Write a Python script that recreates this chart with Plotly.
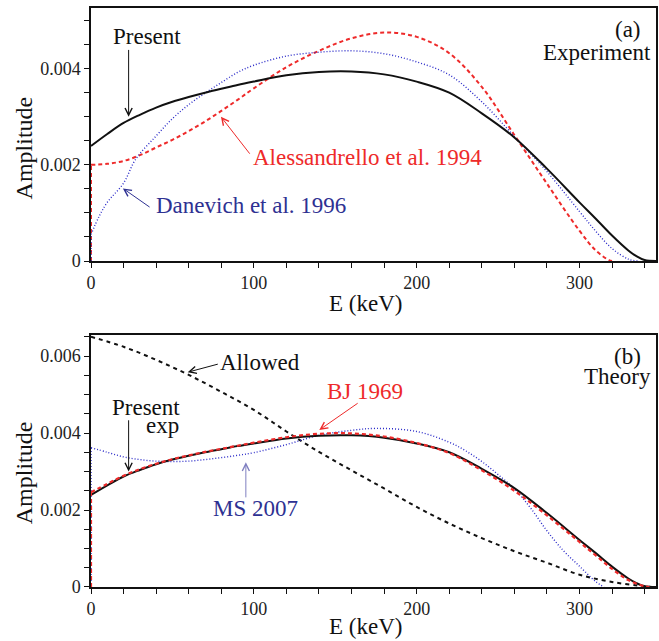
import plotly.graph_objects as go

# ---------------- data ----------------
present_E = [0, 10, 20, 30, 40, 50, 60, 70, 80, 90, 100, 120, 140, 160, 180, 200, 220, 240, 260, 280, 300, 310, 320, 330, 335, 340, 347]
present_A = [0.00239, 0.00264, 0.00287, 0.00304, 0.00319, 0.00331, 0.00341, 0.00350, 0.00358, 0.00366, 0.00373, 0.00386, 0.00393, 0.00394, 0.00388, 0.00373, 0.00350, 0.00307, 0.00257, 0.00192, 0.00122, 0.00088, 0.00053, 0.00022, 0.00010, 0.00002, 0.0]

aless_E = [0, 10, 20, 30, 40, 50, 60, 70, 80, 90, 100, 120, 140, 160, 180, 200, 220, 240, 260, 280, 300, 310, 318, 320]
aless_A = [0.00200, 0.00202, 0.00208, 0.00220, 0.00236, 0.00252, 0.00270, 0.00290, 0.00312, 0.00335, 0.00359, 0.00403, 0.00437, 0.00463, 0.00475, 0.00466, 0.00432, 0.00362, 0.00262, 0.00161, 0.00063, 0.00022, 0.00002, 0.0]

danev_E = [0, 5, 10, 20, 27.5, 40, 50, 60, 70, 80, 90, 100, 120, 140, 160, 180, 200, 220, 240, 260, 280, 300, 310, 320, 330, 336]
danev_A = [0.00055, 0.00093, 0.00122, 0.00162, 0.00212, 0.00260, 0.00296, 0.00325, 0.00349, 0.00371, 0.00392, 0.00407, 0.00426, 0.00434, 0.00437, 0.00431, 0.00414, 0.00387, 0.00331, 0.00259, 0.00186, 0.00103, 0.00062, 0.00026, 0.00004, 0.0]

bj_E = [0, 10, 20, 30, 40, 50, 60, 70, 80, 90, 100, 120, 140, 160, 180, 200, 220, 240, 260, 280, 300, 310, 320, 330, 340, 343]
bj_A = [0.00246, 0.00268, 0.00289, 0.00306, 0.00320, 0.00332, 0.00342, 0.00351, 0.00359, 0.00367, 0.00375, 0.00389, 0.00398, 0.00399, 0.00391, 0.00374, 0.00348, 0.00303, 0.00250, 0.00186, 0.00117, 0.00082, 0.00047, 0.00018, 0.00002, 0.0]

ms_E = [0, 10, 20, 30, 40, 50, 60, 70, 80, 90, 100, 120, 140, 160, 175, 200, 220, 230, 240, 250, 260, 270, 280, 290, 300, 310, 315]
ms_A = [0.00362, 0.00350, 0.00338, 0.00331, 0.00327, 0.00326, 0.00327, 0.00331, 0.00336, 0.00342, 0.00349, 0.00370, 0.00394, 0.00407, 0.00412, 0.00404, 0.00376, 0.00354, 0.00326, 0.00292, 0.00255, 0.00205, 0.00146, 0.00095, 0.00054, 0.00014, 0.0]

allowed_E = [0, 20, 40, 60, 80, 100, 120, 140, 160, 180, 200, 220, 240, 260, 280, 300, 320, 340, 345]
allowed_A = [0.00650, 0.00624, 0.00590, 0.00551, 0.00507, 0.00460, 0.00404, 0.00351, 0.00303, 0.00256, 0.00208, 0.00165, 0.00127, 0.00093, 0.00063, 0.00032, 0.00013, 0.00002, 0.0]

x_ticks = [0, 100, 200, 300]
x_ticklabels = ["0", "100", "200", "300"]
y_ticks_top = [0, 0.002, 0.004]
y_ticklabels_top = ["0", "0.002", "0.004"]
y_ticks_bot = [0, 0.002, 0.004, 0.006]
y_ticklabels_bot = ["0", "0.002", "0.004", "0.006"]

# ---------------- styles ----------------
FONT = "Liberation Serif, Times New Roman, serif"
BLACK = "#111111"
RED = "#ee2a2a"
BLUE = "#2a2ac8"
BLUE_TXT = "#2e3192"
ANN_SIZE = 23

fig = go.Figure()


def curve(E, A, line, xa, ya, start_vertical=False):
    if start_vertical:
        fig.add_trace(go.Scatter(x=[E[0], E[0]], y=[0, A[0]], mode="lines", line=line,
                                 xaxis=xa, yaxis=ya, hoverinfo="skip"))
    fig.add_trace(go.Scatter(x=E, y=A, mode="lines", line=dict(line, shape="spline", smoothing=1.0),
                             xaxis=xa, yaxis=ya))


# top panel
curve(aless_E, aless_A, dict(color=RED, width=2, dash="4px,3px"), "x", "y", True)
curve(danev_E, danev_A, dict(color=BLUE, width=1.4, dash="1px,2px"), "x", "y", True)
curve(present_E, present_A, dict(color=BLACK, width=2), "x", "y")

# bottom panel
curve(allowed_E, allowed_A, dict(color=BLACK, width=2, dash="4px,4px"), "x2", "y2")
curve(ms_E, ms_A, dict(color=BLUE, width=1.4, dash="1px,2px"), "x2", "y2", True)
curve(present_E, present_A, dict(color=BLACK, width=2), "x2", "y2")
curve(bj_E, bj_A, dict(color=RED, width=2.2, dash="4px,3px"), "x2", "y2", True)

axis_common = dict(
    showline=True, mirror=True, linecolor=BLACK, linewidth=1.5,
    showgrid=False, zeroline=False, ticks="outside", ticklen=5, tickwidth=1,
    tickcolor=BLACK, tickfont=dict(family=FONT, size=18, color="#222222"),
)

fig.update_layout(
    width=659, height=641,
    margin=dict(l=91, r=1, t=8, b=54),
    paper_bgcolor="white", plot_bgcolor="white",
    showlegend=False,
    font=dict(family=FONT, color=BLACK),
    xaxis=dict(axis_common, range=[0, 347], domain=[0, 1], anchor="y",
               tickvals=x_ticks, ticktext=x_ticklabels,
               minor=dict(dtick=20, ticks="outside", ticklen=5, tickcolor=BLACK)),
    yaxis=dict(axis_common, range=[0, 0.00526], domain=[0.563, 1], anchor="x",
               tickvals=y_ticks_top, ticktext=y_ticklabels_top,
               minor=dict(dtick=0.0005, ticks="outside", ticklen=5, tickcolor=BLACK)),
    xaxis2=dict(axis_common, range=[0, 347], domain=[0, 1], anchor="y2",
                tickvals=x_ticks, ticktext=x_ticklabels,
                minor=dict(dtick=20, ticks="outside", ticklen=5, tickcolor=BLACK)),
    yaxis2=dict(axis_common, range=[0, 0.006546], domain=[0, 0.4352], anchor="x2",
                tickvals=y_ticks_bot, ticktext=y_ticklabels_bot,
                minor=dict(dtick=0.0005, ticks="outside", ticklen=5, tickcolor=BLACK)),
)

ann = []


def text(x, y, t, color, xref="x", yref="y", size=ANN_SIZE, xanchor="center", angle=0):
    ann.append(dict(x=x, y=y, xref=xref, yref=yref, text=t, showarrow=False,
                    font=dict(family=FONT, size=size, color=color),
                    xanchor=xanchor, yanchor="middle", textangle=angle))


def arrow(xt, yt, xs, ys, color, xref="x", yref="y"):
    ann.append(dict(x=xt, y=yt, ax=xs, ay=ys, xref=xref, yref=yref, axref=xref, ayref=yref,
                    text="", showarrow=True, arrowhead=5, arrowsize=1.4, arrowwidth=1,
                    arrowcolor=color, standoff=0, startstandoff=0))


# top panel annotations
text(34.6, 0.00467, "Present", BLACK)
arrow(23.1, 0.00300, 23.1, 0.00442, BLACK)
text(169.6, 0.00216, "Alessandrello et al. 1994", RED)
arrow(79.8, 0.00300, 98.2, 0.00220, RED)
text(98.0, 0.00116, "Danevich et al. 1996", BLUE_TXT)
arrow(19.6, 0.00151, 36.9, 0.00110, BLUE_TXT)
text(339, 0.00482, "(a)", BLACK, xanchor="right")
text(345, 0.00433, "Experiment", BLACK, xanchor="right")

# bottom panel annotations
text(104, 0.00584, "Allowed", BLACK, xref="x2", yref="y2")
arrow(59.4, 0.00558, 78.8, 0.00580, BLACK, xref="x2", yref="y2")
text(55.6, 0.00466, "Present", BLACK, xref="x2", yref="y2", xanchor="right")
text(55.0, 0.00420, "exp", BLACK, xref="x2", yref="y2", xanchor="right")
arrow(23.1, 0.00300, 23.1, 0.00437, BLACK, xref="x2", yref="y2")
text(101, 0.00203, "MS 2007", BLUE_TXT, xref="x2", yref="y2")
arrow(95.1, 0.00324, 95.1, 0.00229, "#7f7fc0", xref="x2", yref="y2")
text(168.2, 0.00509, "BJ 1969", RED, xref="x2", yref="y2")
arrow(140.2, 0.00408, 164.7, 0.00480, RED, xref="x2", yref="y2")
text(339, 0.00600, "(b)", BLACK, xref="x2", yref="y2", xanchor="right")
text(345, 0.00546, "Theory", BLACK, xref="x2", yref="y2", xanchor="right")

# axis titles
text(0.485, 0.4888, "E (keV)", BLACK, xref="paper", yref="paper", size=23)
text(0.485, -0.069, "E (keV)", BLACK, xref="paper", yref="paper", size=23)
text(-0.118, 0.758, "Amplitude", BLACK, xref="paper", yref="paper", size=24, angle=-90)
text(-0.118, 0.197, "Amplitude", BLACK, xref="paper", yref="paper", size=24, angle=-90)

fig.update_layout(annotations=ann)
fig.write_html("out.html")
